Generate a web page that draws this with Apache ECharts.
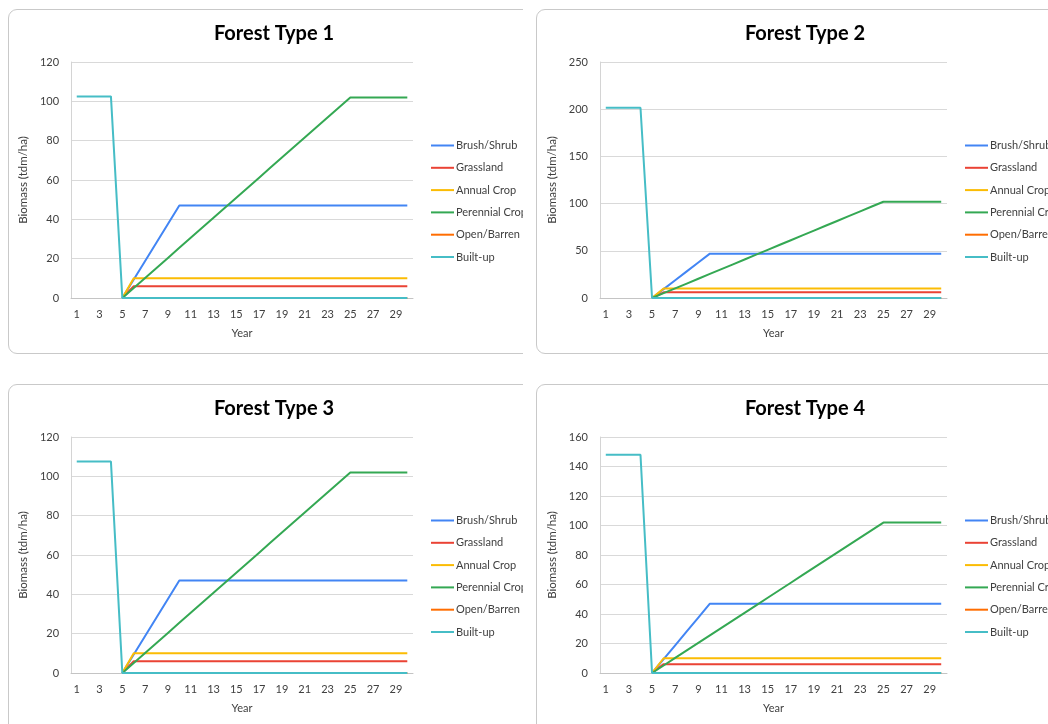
<!DOCTYPE html>
<html>
<head>
<meta charset="utf-8">
<title>Biomass by Forest Type</title>
<script src="https://cdn.jsdelivr.net/npm/echarts@6/dist/echarts.min.js"></script>
<style>
  html, body { margin: 0; padding: 0; background: #ffffff; }
  body { width: 1048px; height: 724px; position: relative; overflow: hidden; }
  .clip { position: absolute; overflow: hidden; }
  .card { position: absolute; border: 1px solid #c9c9c9; border-radius: 9px; background: #fff; box-sizing: border-box; }
  .chart { position: absolute; left: 0; top: 0; }
</style>
</head>
<body>
<div class="clip" style="left:0;top:0;width:523px;height:370px;"><div class="card" id="card1" style="left:8px;top:9px;width:545px;height:345px;"><div class="chart" id="c1" style="width:545px;height:345px;"></div></div></div>
<div class="clip" style="left:530px;top:0;width:518px;height:370px;"><div class="card" id="card2" style="left:6px;top:9px;width:545px;height:345px;"><div class="chart" id="c2" style="width:545px;height:345px;"></div></div></div>
<div class="clip" style="left:0;top:370px;width:523px;height:354px;"><div class="card" id="card3" style="left:8px;top:14px;width:545px;height:360px;"><div class="chart" id="c3" style="width:545px;height:360px;"></div></div></div>
<div class="clip" style="left:530px;top:370px;width:518px;height:354px;"><div class="card" id="card4" style="left:6px;top:14px;width:545px;height:360px;"><div class="chart" id="c4" style="width:545px;height:360px;"></div></div></div>

<script>
// Simulation years on the category axis
const years = [1, 2, 3, 4, 5, 6, 7, 8, 9, 10, 11, 12, 13, 14, 15, 16, 17, 18, 19, 20, 21, 22, 23, 24, 25, 26, 27, 28, 29, 30];

// Biomass (tdm/ha) after conversion in year 5 — same for every forest type
const brushShrub = [null, null, null, null, 0, 9.4, 18.8, 28.2, 37.6, 47, 47, 47, 47, 47, 47, 47, 47, 47, 47, 47, 47, 47, 47, 47, 47, 47, 47, 47, 47, 47];
const grassland = [null, null, null, null, 0, 6, 6, 6, 6, 6, 6, 6, 6, 6, 6, 6, 6, 6, 6, 6, 6, 6, 6, 6, 6, 6, 6, 6, 6, 6];
const annualCrop = [null, null, null, null, 0, 10, 10, 10, 10, 10, 10, 10, 10, 10, 10, 10, 10, 10, 10, 10, 10, 10, 10, 10, 10, 10, 10, 10, 10, 10];
const perennialCrop = [null, null, null, null, 0, 5.1, 10.2, 15.3, 20.4, 25.5, 30.6, 35.7, 40.8, 45.9, 51, 56.1, 61.2, 66.3, 71.4, 76.5, 81.6, 86.7, 91.8, 96.9, 102, 102, 102, 102, 102, 102];
const openBarren = [null, null, null, null, 0, 0, 0, 0, 0, 0, 0, 0, 0, 0, 0, 0, 0, 0, 0, 0, 0, 0, 0, 0, 0, 0, 0, 0, 0, 0];

// Standing forest biomass until clearing, then built-up land
const builtUpType1 = [102.5, 102.5, 102.5, 102.5, 0, 0, 0, 0, 0, 0, 0, 0, 0, 0, 0, 0, 0, 0, 0, 0, 0, 0, 0, 0, 0, 0, 0, 0, 0, 0];
const builtUpType2 = [201.5, 201.5, 201.5, 201.5, 0, 0, 0, 0, 0, 0, 0, 0, 0, 0, 0, 0, 0, 0, 0, 0, 0, 0, 0, 0, 0, 0, 0, 0, 0, 0];
const builtUpType3 = [107.5, 107.5, 107.5, 107.5, 0, 0, 0, 0, 0, 0, 0, 0, 0, 0, 0, 0, 0, 0, 0, 0, 0, 0, 0, 0, 0, 0, 0, 0, 0, 0];
const builtUpType4 = [148, 148, 148, 148, 0, 0, 0, 0, 0, 0, 0, 0, 0, 0, 0, 0, 0, 0, 0, 0, 0, 0, 0, 0, 0, 0, 0, 0, 0, 0];

const seriesNames = ['Brush/Shrub', 'Grassland', 'Annual Crop', 'Perennial Crop', 'Open/Barren', 'Built-up'];
const seriesColors = ['#4285F4', '#EA4335', '#FBBC04', '#34A853', '#FF6D01', '#46BDC6'];

const panelTitles = ['Forest Type 1', 'Forest Type 2', 'Forest Type 3', 'Forest Type 4'];
const yAxisMax = [120, 250, 120, 160];
const yAxisStep = [20, 50, 20, 20];
const builtUpByPanel = [builtUpType1, builtUpType2, builtUpType3, builtUpType4];

const FONT = 'Lato, "Open Sans", sans-serif';
const TEXT_GRAY = '#404040';
// Flat stroke used as the legend key
const LEGEND_STROKE = 'path://M0,0H23V2H0Z';

function buildOption(i, layout) {
  const values = [brushShrub, grassland, annualCrop, perennialCrop, openBarren, builtUpByPanel[i]];
  return {
    animation: false,
    textStyle: { fontFamily: FONT },
    graphic: [{
      type: 'text',
      x: layout.titleX,
      y: 24,
      style: {
        text: panelTitles[i],
        align: 'center',
        verticalAlign: 'middle',
        fontFamily: FONT,
        fontWeight: 'bold',
        fontSize: 20,
        fill: '#000000'
      }
    }],
    legend: {
      orient: 'vertical',
      left: layout.legendLeft,
      top: 125,
      icon: LEGEND_STROKE,
      itemWidth: 23,
      itemHeight: 14,
      itemGap: 11.3,
      textStyle: { fontFamily: FONT, fontSize: 11, color: TEXT_GRAY, padding: [0, 0, 0, -3] },
      data: seriesNames
    },
    grid: {
      left: layout.gridLeft,
      width: layout.gridWidth,
      top: 52,
      height: 236
    },
    xAxis: {
      type: 'category',
      data: years,
      boundaryGap: true,
      name: 'Year',
      nameLocation: 'middle',
      nameGap: 30,
      nameTextStyle: { fontFamily: FONT, fontSize: 11, color: TEXT_GRAY },
      axisLine: { show: true, lineStyle: { color: '#c4c4c4', width: 1 } },
      axisTick: { show: false },
      axisLabel: { interval: 1, margin: 11, fontFamily: FONT, fontSize: 11, color: TEXT_GRAY },
      splitLine: { show: false }
    },
    yAxis: {
      type: 'value',
      min: 0,
      max: yAxisMax[i],
      interval: yAxisStep[i],
      name: 'Biomass (tdm/ha)',
      nameLocation: 'middle',
      nameRotate: 90,
      nameGap: 32,
      nameTextStyle: { fontFamily: FONT, fontSize: 11.5, color: TEXT_GRAY },
      axisLine: { show: true, lineStyle: { color: '#d4d4d4', width: 1 } },
      axisTick: { show: false },
      axisLabel: { margin: 12, fontFamily: FONT, fontSize: 11, color: TEXT_GRAY },
      splitLine: { show: true, lineStyle: { color: '#d9d9d9', width: 1 } }
    },
    series: seriesNames.map((name, k) => ({
      name: name,
      type: 'line',
      data: values[k],
      symbol: 'none',
      connectNulls: false,
      color: seriesColors[k],
      lineStyle: { width: 2, color: seriesColors[k] },
      z: 2 + k
    }))
  };
}

const layouts = [
  { titleX: 265, legendLeft: 417, gridLeft: 62, gridWidth: 342 },
  { titleX: 268, legendLeft: 423, gridLeft: 63, gridWidth: 347 },
  { titleX: 265, legendLeft: 417, gridLeft: 62, gridWidth: 342 },
  { titleX: 268, legendLeft: 423, gridLeft: 63, gridWidth: 347 }
];

['c1', 'c2', 'c3', 'c4'].forEach((id, i) => {
  const chart = echarts.init(document.getElementById(id), null, { renderer: 'canvas' });
  chart.setOption(buildOption(i, layouts[i]));
});
</script>
</body>
</html>
